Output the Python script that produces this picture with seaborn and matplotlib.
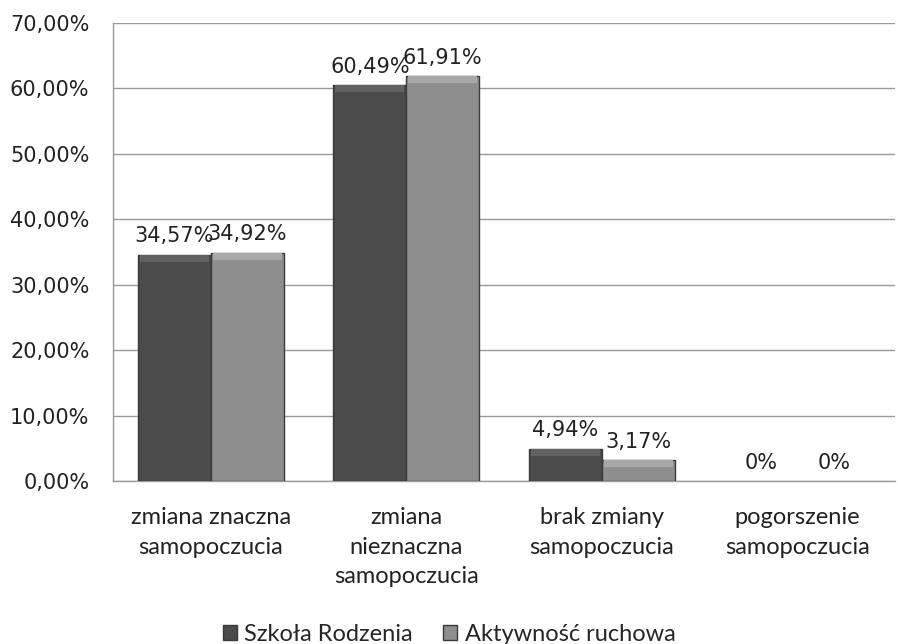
import matplotlib
matplotlib.use("Agg")
import matplotlib.pyplot as plt
import seaborn as sns
import pandas as pd
from matplotlib.ticker import FuncFormatter
from matplotlib.patches import Patch, Rectangle

categories = ["zmiana znaczna\nsamopoczucia", "zmiana\nnieznaczna\nsamopoczucia",
              "brak zmiany\nsamopoczucia", "pogorszenie\nsamopoczucia"]
series = ["Szkoła Rodzenia", "Aktywność ruchowa"]
szkola = [34.57, 60.49, 4.94, 0.0]
aktywnosc = [34.92, 61.91, 3.17, 0.0]
labels_szkola = ["34,57%", "60,49%", "4,94%", "0%"]
labels_aktywnosc = ["34,92%", "61,91%", "3,17%", "0%"]
yticks = [0, 10, 20, 30, 40, 50, 60, 70]

df = pd.DataFrame({
    "kategoria": categories * 2,
    "seria": [series[0]] * 4 + [series[1]] * 4,
    "wartosc": szkola + aktywnosc,
})

sns.set_theme(style="white")
plt.rcParams["font.family"] = ["DejaVu Sans"]

fig = plt.figure(figsize=(8.98, 6.44), dpi=100)
ax = fig.add_axes([113 / 898, 1 - 481 / 644, 782 / 898, 458 / 644])

colors = ["#4b4b4b", "#8e8e8e"]
sns.barplot(data=df, x="kategoria", y="wartosc", hue="seria", palette=colors,
            width=0.745, gap=0, saturation=1, ax=ax, legend=False,
            edgecolor="#3a3a3a", linewidth=1.0, zorder=3)

# hide outline of zero-height bars
for container in ax.containers:
    for bar in container:
        if bar.get_height() == 0:
            bar.set_linewidth(0)

ax.set_ylim(0, 70)

# bevel highlight along the top of every bar
px_to_data = 70 / 458
highlights = ["#616161", "#a8a8a8"]
for container, hl in zip(ax.containers, highlights):
    for bar in container:
        h = bar.get_height()
        if h <= 0:
            continue
        bh = min(7 * px_to_data, h * 0.5)
        ax.add_patch(Rectangle((bar.get_x() + 0.01, h - bh), bar.get_width() - 0.02, bh,
                               facecolor=hl, edgecolor="none", zorder=4))

ax.set_yticks(yticks)
ax.yaxis.set_major_formatter(FuncFormatter(lambda v, p: f"{v:.2f}".replace(".", ",") + "%"))
ax.grid(axis="y", color="#9a9a9a", linewidth=1.0, zorder=0)
for side in ["top", "right"]:
    ax.spines[side].set_visible(False)
for side in ["left", "bottom"]:
    ax.spines[side].set_color("#9a9a9a")
    ax.spines[side].set_linewidth(1.0)
ax.set_xlabel("")
ax.set_ylabel("")
ax.tick_params(axis="y", labelsize=15, colors="#222222", length=0, pad=17)
ax.tick_params(axis="x", length=0, pad=19)
for t in ax.get_xticklabels():
    t.set_fontfamily(["Lato"])
    t.set_fontsize(17)
    t.set_color("#222222")
    t.set_linespacing(1.5)

# value labels above each bar
all_labels = [labels_szkola, labels_aktywnosc]
for container, labs in zip(ax.containers, all_labels):
    ax.bar_label(container, labels=labs, padding=6, fontsize=15, color="#222222")

# legend below the axes
handles = [Patch(facecolor=c, edgecolor="#3a3a3a") for c in colors]
fig.legend(handles, series, loc="lower center", bbox_to_anchor=(0.5, -0.035), ncol=2,
           frameon=False, prop={"family": "Lato", "size": 17}, handlelength=0.6,
           handleheight=0.6, handletextpad=0.3, columnspacing=1.3)

fig.savefig("out.png", dpi=100)
